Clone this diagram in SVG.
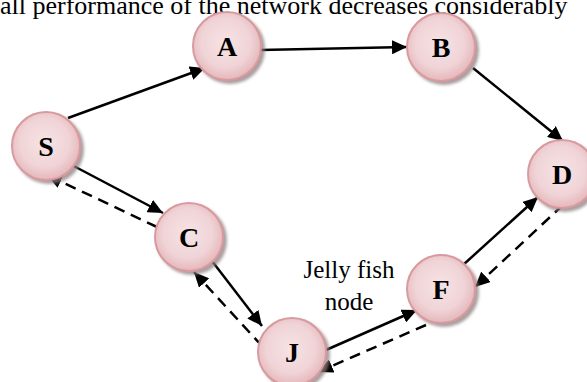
<svg xmlns="http://www.w3.org/2000/svg" width="587" height="382" viewBox="0 0 587 382">
  <defs>
    <radialGradient id="nodeFill" cx="48%" cy="45%" r="60%">
      <stop offset="0%" stop-color="#f6e3e5"/>
      <stop offset="60%" stop-color="#f0d4d7"/>
      <stop offset="100%" stop-color="#e2afb3"/>
    </radialGradient>
    <filter id="shadow" x="-30%" y="-30%" width="160%" height="160%">
      <feDropShadow dx="3" dy="3" stdDeviation="1.5" flood-color="#8f7f80" flood-opacity="0.75"/>
    </filter>
    <marker id="arrow" markerUnits="userSpaceOnUse" markerWidth="16" markerHeight="14" refX="15" refY="7" orient="auto">
      <path d="M0,0 L15,7 L0,14 Z" fill="#000"/>
    </marker>
  </defs>
  <style>
    .node circle { fill: url(#nodeFill); stroke: #d89a9e; stroke-width: 2; filter: url(#shadow); }
    .node text { font-family: "Liberation Serif", "Times New Roman", serif; font-weight: bold; font-size: 28px; text-anchor: middle; fill: #000; }
    .edge { stroke: #000; stroke-width: 2.5; fill: none; marker-end: url(#arrow); }
    .dash { stroke-dasharray: 11 7; }
    .caption { font-family: "Liberation Serif", "Times New Roman", serif; font-size: 26px; fill: #000; }
    .note { font-family: "Liberation Serif", "Times New Roman", serif; font-size: 25px; fill: #000; text-anchor: middle; }
  </style>

  <rect width="587" height="382" fill="#fff"/>

  <!-- sentence running along the top edge -->
  <text class="caption" x="0" y="14">all performance of the network decreases considerably</text>

  <!-- links between nodes: solid = forward route, dashed = reply route -->
  <g id="connectors">
    <line class="edge" x1="68" y1="118" x2="205" y2="68"/>
    <line class="edge" x1="260" y1="50" x2="407" y2="47"/>
    <line class="edge" x1="473" y1="68" x2="563" y2="141"/>
    <line class="edge" x1="68" y1="163" x2="163" y2="213"/>
    <line class="edge dash" x1="157" y1="227" x2="47" y2="175"/>
    <line class="edge" x1="212" y1="261" x2="262" y2="326"/>
    <line class="edge dash" x1="262" y1="346" x2="194" y2="272"/>
    <line class="edge" x1="326" y1="350" x2="417" y2="310"/>
    <line class="edge dash" x1="426" y1="325" x2="318" y2="372"/>
    <line class="edge" x1="463" y1="265" x2="538" y2="197"/>
    <line class="edge dash" x1="563" y1="205" x2="475" y2="287"/>
  </g>

  <g id="node-S" class="node"><circle cx="46" cy="146" r="34"/><text x="46" y="156">S</text></g>
  <g id="node-A" class="node"><circle cx="227" cy="46" r="34"/><text x="227" y="56">A</text></g>
  <g id="node-B" class="node"><circle cx="441" cy="47" r="34"/><text x="441" y="57">B</text></g>
  <g id="node-C" class="node"><circle cx="189" cy="237" r="34"/><text x="189" y="247">C</text></g>
  <g id="node-J" class="node"><circle cx="292" cy="352" r="34"/><text x="292" y="362">J</text></g>
  <g id="node-F" class="node"><circle cx="441" cy="289" r="34"/><text x="441" y="299">F</text></g>
  <g id="node-D" class="node"><circle cx="562" cy="174" r="34"/><text x="562" y="184">D</text></g>

  <!-- label beside node J -->
  <g id="label-jellyfish">
    <text class="note" x="349" y="278">Jelly fish</text>
    <text class="note" x="349" y="310">node</text>
  </g>
</svg>
